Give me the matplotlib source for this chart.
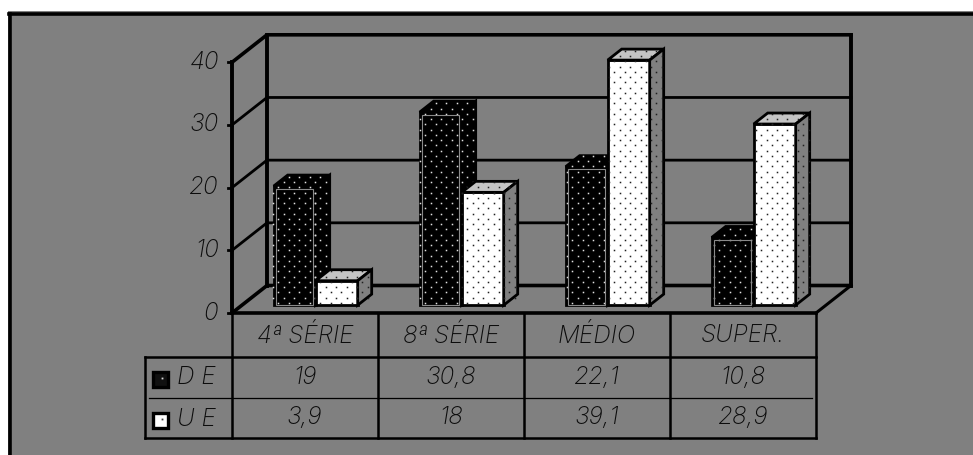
import numpy as np
import matplotlib
matplotlib.use("Agg")
import matplotlib.pyplot as plt
from matplotlib.lines import Line2D
from matplotlib.patches import Polygon, Rectangle
from matplotlib.path import Path

categories = ["4ª SÉRIE", "8ª SÉRIE", "MÉDIO", "SUPER."]
de_values = [19, 30.8, 22.1, 10.8]
ue_values = [3.9, 18, 39.1, 28.9]
de_labels = ["19", "30,8", "22,1", "10,8"]
ue_labels = ["3,9", "18", "39,1", "28,9"]
y_ticks = [0, 10, 20, 30, 40]

W, H = 973, 455
BG = "#808080"
INK = "#0c0c0c"
FONT = dict(family=["Inter", "DejaVu Sans"], style="italic", weight="light", color=INK, fontsize=17.5)

# front plane of the 3d box, in image pixels
LEFT, RIGHT, ZERO, TOP = 232, 816, 313, 62.3
DX = 35 / 146  # depth of the box in category units
DY = 27.5 / ((ZERO - TOP) / 40)  # and in value units

fig = plt.figure(figsize=(W / 100, H / 100), dpi=100, facecolor="white")
fig.add_artist(Rectangle((8 / W, 0), 1, 1 - 11 / H, transform=fig.transFigure, fc=BG, ec="none", zorder=-1))
ax = fig.add_axes([LEFT / W, 1 - ZERO / H, (RIGHT - LEFT) / W, (ZERO - TOP) / H])
ax.set_xlim(0, 4)
ax.set_ylim(0, 40)
ax.axis("off")


def px(x, y):
    return ax.transData.inverted().transform((x, H - y))


def line(xs, ys, lw=2.6, z=1):
    ax.plot(xs, ys, color="black", lw=lw, zorder=z, clip_on=False, solid_capstyle="projecting")


def pxline(p0, p1, lw=2.2, z=1):
    a, b = px(*p0), px(*p1)
    line([a[0], b[0]], [a[1], b[1]], lw, z)


def stipple(verts, color, z):
    # the little regular dots of the old windows fill pattern
    disp = ax.transData.transform(verts)
    path = Path(disp)
    xs, ys = [], []
    y0, y1 = disp[:, 1].min(), disp[:, 1].max()
    x0, x1 = disp[:, 0].min(), disp[:, 0].max()
    for yy in np.arange(np.floor(y0 / 5.25) * 5.25, y1, 5.25):
        start = np.floor(x0 / 10.5) * 10.5 + (5.25 if round(yy / 5.25) % 2 else 0)
        for xx in np.arange(start, x1, 10.5):
            if path.contains_point((xx, yy), radius=-1.5) or path.contains_point((xx, yy), radius=1.5):
                xs.append(xx)
                ys.append(yy)
    if xs:
        pts = ax.transData.inverted().transform(np.column_stack([xs, ys]))
        ax.plot(pts[:, 0], pts[:, 1], ls="", marker="s", ms=1.1, mew=0, color=color, zorder=z, clip_on=False)


def bar3d(x, w, v, front, top, side, dot, z):
    d0, d1 = 0.285, 0.685

    def p(cx, val, d):
        return (cx + d * DX, val + d * DY)

    faces = [
        ([p(x, 0, d0), p(x + w, 0, d0), p(x + w, v, d0), p(x, v, d0)], front),
        ([p(x, v, d0), p(x + w, v, d0), p(x + w, v, d1), p(x, v, d1)], top),
        ([p(x + w, 0, d0), p(x + w, 0, d1), p(x + w, v, d1), p(x + w, v, d0)], side),
    ]
    for verts, col in faces:
        ax.add_patch(Polygon(verts, closed=True, fc=col, ec="black", lw=2.0, zorder=z, clip_on=False, joinstyle="miter"))
        stipple(np.array(verts), dot, z + 0.1)


# back wall, floor and gridlines
for t in y_ticks:
    line([0, DX, 4 + DX], [t, t + DY, t + DY], lw=2.0 if t in (10, 20, 30) else 2.6)
    line([-0.03, 0], [t, t], lw=2.0)
line([0, 0], [0, 40], lw=2.8)
line([DX, DX], [DY, 40 + DY], lw=2.8)
line([4 + DX, 4 + DX], [DY, 40 + DY], lw=2.8)
line([4, 4 + DX], [0, DY], lw=2.2)
line([0, 4], [0, 0], lw=2.6, z=30)

for t in y_ticks:
    ax.text(-0.09, t, str(t), ha="right", va="center", **FONT)

# bars, dark one first because the white one sits in front of its side
gap, bw = 32 / 146, 42 / 146
for i in range(len(categories)):
    x = i + gap - 0.002
    bar3d(x, bw, de_values[i], "black", "black", "black", "#e0e0e0", 10 + i * 2)
    a, b = px(0, 0), px(2.5, 2.5)
    inset_x, inset_y = b[0] - a[0], a[1] - b[1]
    ax.add_patch(Rectangle((x + 0.285 * DX + inset_x, 0.285 * DY), bw - 2 * inset_x, de_values[i] - inset_y,
                           fc="none", ec="#8a8a8a", lw=0.8, zorder=10.2 + i * 2, clip_on=False))
    bar3d(x + bw, bw, ue_values[i], "white", "#c4c4c4", "#808080", "#202020", 11 + i * 2)

# data table under the chart
COLS = [232, 378, 524, 670, 816]
for xp in COLS:
    pxline((xp, 313), (xp, 438), lw=1.8, z=30)
pxline((145, 357), (145, 438), lw=1.8, z=30)
pxline((145, 357), (816, 357), lw=1.8, z=30)
pxline((145, 438), (816, 438), lw=1.8, z=30)
pxline((149, 398), (812, 398), lw=0.9, z=30)

for i in range(len(categories)):
    xc = (COLS[i] + COLS[i + 1]) / 2
    ax.text(*px(xc, 336), categories[i], ha="center", va="center", **FONT)
    ax.text(*px(xc, 377), de_labels[i], ha="center", va="center", **FONT)
    ax.text(*px(xc, 418), ue_labels[i], ha="center", va="center", **FONT)

ax.text(*px(177, 378), "D E", ha="left", va="center", **FONT)
ax.text(*px(177, 419), "U E", ha="left", va="center", **FONT)

# legend keys
for yp, fill in ((372, "#101010"), (413, "white")):
    a = px(153, yp + 15)
    b = px(168, yp)
    ax.add_patch(Rectangle(a, b[0] - a[0], b[1] - a[1], fc=fill, ec="black", lw=2.4, zorder=30, clip_on=False))
    c = px(162, yp + 6)
    ax.plot([c[0]], [c[1]], ls="", marker="s", ms=1.3, mew=0, color="#d8d8d8" if fill != "white" else "#404040", zorder=31, clip_on=False)

# outer frame, only left and top edges are black
fig.add_artist(Line2D([10 / W, 10 / W], [0, 1 - 13.5 / H], color="black", lw=2.6))
fig.add_artist(Line2D([8.5 / W, 1], [1 - 13.5 / H, 1 - 13.5 / H], color="black", lw=2.6))

fig.savefig("out.png", dpi=100, facecolor="white")
